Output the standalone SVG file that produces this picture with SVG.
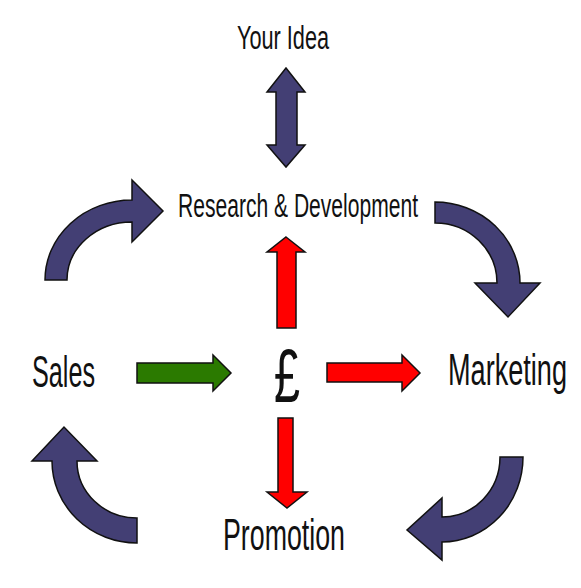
<svg xmlns="http://www.w3.org/2000/svg" width="581" height="588" viewBox="0 0 581 588">
<style>
.lbl{font-family:"Liberation Sans",Arial,sans-serif;fill:#111;}
.navy{fill:#433F74;stroke:#111;stroke-width:1.5;stroke-linejoin:miter;}
.red{fill:#FF0000;stroke:#111;stroke-width:1.5;}
.green{fill:#2B7A00;stroke:#111;stroke-width:1.5;}
</style>
<rect width="581" height="588" fill="#fff"/>
<g id="node-your-idea"><text class="lbl" x="237" y="49" font-size="33" textLength="92" lengthAdjust="spacingAndGlyphs">Your Idea</text></g>
<g id="node-rd"><text class="lbl" x="178" y="217" font-size="34" textLength="240" lengthAdjust="spacingAndGlyphs">Research &amp; Development</text></g>
<g id="node-sales"><text class="lbl" x="32" y="387" font-size="44" textLength="63" lengthAdjust="spacingAndGlyphs">Sales</text></g>
<g id="node-money"><text class="lbl" x="274" y="402" font-size="76" textLength="26" lengthAdjust="spacingAndGlyphs">£</text></g>
<g id="node-marketing"><text class="lbl" x="448" y="385" font-size="44" textLength="119" lengthAdjust="spacingAndGlyphs">Marketing</text></g>
<g id="node-promotion"><text class="lbl" x="223" y="550" font-size="44" textLength="122" lengthAdjust="spacingAndGlyphs">Promotion</text></g>
<g id="connectors">
<path class="navy" d="M286,68 L305,92 L297,92 L297,145 L305,145 L286,167 L267,145 L276,145 L276,92 L267,92 Z"/>
<path class="red" d="M286,237 L305,252 L296,252 L296,328 L277,328 L277,252 L267,252 Z"/>
<path class="red" d="M278,418 L293,418 L293,492 L307,492 L287,508 L267,492 L278,492 Z"/>
<path class="red" d="M327,363 L402,363 L402,355 L420,373 L402,391 L402,382 L327,382 Z"/>
<path class="green" d="M137,363 L213,363 L213,355 L231,373 L213,391 L213,383 L137,383 Z"/>
<path class="navy" d="M45,280 A87,80 0 0 1 132,200 L132,180 L163,211 L132,242 L132,222 A65,58 0 0 0 67,280 Z"/>
<path class="navy" d="M435,202 A85,81 0 0 1 520,283 L540,283 L508,317 L475,283 L497,283 A62,60 0 0 0 435,223 Z"/>
<path class="navy" d="M523,457 A81,85 0 0 1 442,542 L442,560 L407,530 L442,498 L442,517 A58,60 0 0 0 500,457 Z"/>
<path class="navy" d="M137,543 A85,82 0 0 1 52,461 L32,461 L64,427 L97,461 L77,461 A60,57 0 0 0 137,518 Z"/>
</g>
</svg>
